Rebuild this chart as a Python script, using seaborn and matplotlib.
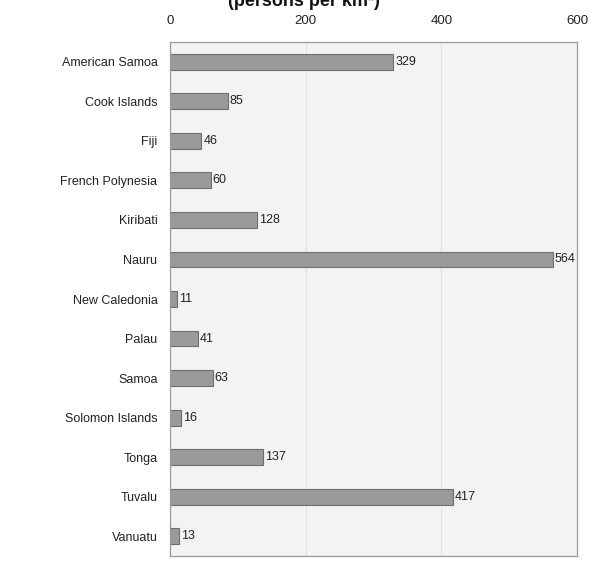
"""Population density of Pacific island countries, horizontal bar chart."""
import matplotlib

matplotlib.use("Agg")
import matplotlib.pyplot as plt
import pandas as pd
import seaborn as sns

countries = ["American Samoa", "Cook Islands", "Fiji", "French Polynesia",
             "Kiribati", "Nauru", "New Caledonia", "Palau", "Samoa",
             "Solomon Islands", "Tonga", "Tuvalu", "Vanuatu"]
density = [329, 85, 46, 60, 128, 564, 11, 41, 63, 16, 137, 417, 13]
x_ticks = [0, 200, 400, 600]

sns.set_theme(style="white")
plt.rcParams["font.family"] = ["Liberation Sans", "DejaVu Sans"]

df = pd.DataFrame({"country": countries, "density": density})

fig = plt.figure(figsize=(6.08, 5.62), dpi=100)
ax = fig.add_axes([170 / 608, 6 / 562, 407 / 608, 514 / 562])
ax.set_facecolor("#f3f3f3")

sns.barplot(data=df, y="country", x="density", orient="h", color="#9a9a9a",
            edgecolor="#6e6e6e", linewidth=0.8, width=0.4, saturation=1,
            ax=ax)

for i, v in enumerate(density):
    ax.text(v + 3, i, str(v), va="center", ha="left", fontsize=9,
            color="#222222")

ax.set_xlim(0, 600)
ax.set_ylim(12.5, -0.5)
ax.set_xticks(x_ticks)
ax.xaxis.tick_top()
ax.tick_params(axis="x", labelsize=9.5, length=0, pad=11, colors="#222222")
ax.tick_params(axis="y", labelsize=9, length=0, pad=9, colors="#222222")
for xt in x_ticks[1:-1]:
    ax.axvline(xt, color="#e2e2e2", lw=0.8, zorder=0)
ax.set_xlabel("")
ax.set_ylabel("")
for s in ax.spines.values():
    s.set_color("#9a9a9a")
    s.set_linewidth(0.9)

fig.text(0.5, 1.012, "(persons per km²)", ha="center", va="top",
         fontsize=13, fontweight="bold", color="#111111")

fig.savefig("out.png", dpi=100)
plt.close(fig)
